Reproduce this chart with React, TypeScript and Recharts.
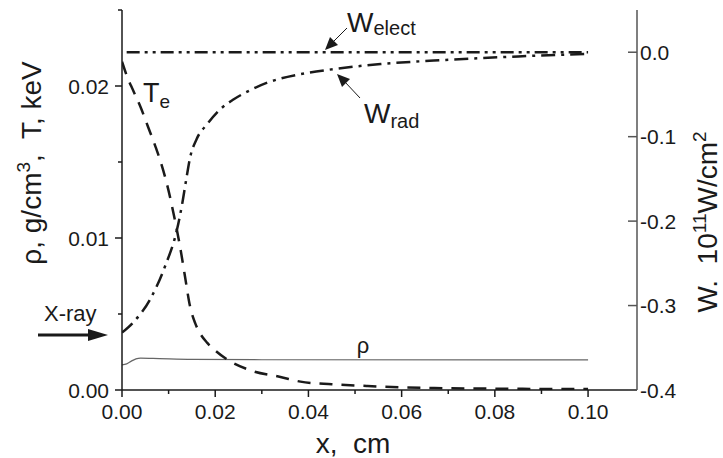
import React from 'react';
import { ComposedChart, Line, XAxis, YAxis } from 'recharts';

// Te (left axis, keV) sampled along x (cm)
const teX = [0, 0.001, 0.0024, 0.004, 0.0056, 0.0072, 0.0088, 0.01, 0.011, 0.0118, 0.0127, 0.0135, 0.0146, 0.0157, 0.0168, 0.0183, 0.02, 0.0226, 0.0275, 0.034, 0.0383, 0.045, 0.0527, 0.06, 0.067, 0.08, 0.09, 0.1];
const teVal = [0.0216, 0.0207, 0.0197, 0.0186, 0.0173, 0.016, 0.0145, 0.0131, 0.0117, 0.0105, 0.009, 0.0075, 0.0055, 0.0044, 0.0037, 0.0031, 0.0026, 0.002, 0.0013, 0.00086, 0.00055, 0.00038, 0.00026, 0.00018, 0.00013, 0.00009, 0.00007, 0.00006];

// density rho (left axis, g/cm3)
const rhoX = [0, 0.001, 0.002, 0.003, 0.004, 0.008, 0.015, 0.03, 0.1];
const rhoVal = [0.00165, 0.00172, 0.0019, 0.00205, 0.0021, 0.00207, 0.00202, 0.00199, 0.00198];

// W_rad (right axis, 1e11 W/cm2)
const wRadX = [0, 0.0024, 0.006, 0.0092, 0.0118, 0.0129, 0.0138, 0.0146, 0.016, 0.0183, 0.021, 0.0239, 0.0275, 0.0312, 0.0383, 0.0454, 0.0555, 0.07, 0.085, 0.1];
const wRadVal = [-0.332, -0.32, -0.293, -0.254, -0.21, -0.18, -0.15, -0.125, -0.103, -0.085, -0.068, -0.056, -0.045, -0.036, -0.026, -0.02, -0.014, -0.009, -0.005, -0.002];

// W_elect (right axis)
const wElX = [0.001, 0.02, 0.04, 0.06, 0.08, 0.1];
const wElVal = [0, 0, 0, 0, 0, 0];

const xTicks = [0, 0.01, 0.02, 0.03, 0.04, 0.05, 0.06, 0.07, 0.08, 0.09, 0.1];
const xMajor = [0, 0.02, 0.04, 0.06, 0.08, 0.1];
const leftTicks = [0, 0.005, 0.01, 0.015, 0.02, 0.025];
const leftMajor = [0, 0.01, 0.02];
const rightTicks = [-0.4, -0.3, -0.2, -0.1, 0];

const toPts = (xs: number[], vs: number[]) => xs.map((x, i) => ({ x, v: vs[i] }));

const FONT = 'Liberation Sans, Arial, sans-serif';
const INK = '#1a1a1a';

const XTick = (props: any) => {
  const { x, y, payload } = props;
  const major = xMajor.some((m) => Math.abs(m - payload.value) < 1e-9);
  return (
    <g>
      <line x1={x} x2={x} y1={y} y2={y + (major ? 7 : 4)} stroke={INK} strokeWidth={1.5} />
      {major && (
        <text x={x} y={y + 29} textAnchor="middle" fontSize={21} fontFamily={FONT} fill={INK}>
          {payload.value.toFixed(2)}
        </text>
      )}
    </g>
  );
};

const LeftTick = (props: any) => {
  const { x, y, payload } = props;
  const major = leftMajor.some((m) => Math.abs(m - payload.value) < 1e-9);
  return (
    <g>
      <line x1={x - (major ? 7 : 4)} x2={x} y1={y} y2={y} stroke={INK} strokeWidth={1.5} />
      {major && (
        <text x={x - 13} y={y + 7.5} textAnchor="end" fontSize={21} fontFamily={FONT} fill={INK}>
          {payload.value.toFixed(2)}
        </text>
      )}
    </g>
  );
};

const RightTick = (props: any) => {
  const { x, y, payload } = props;
  return (
    <g>
      <line x1={x - 9} x2={x} y1={y} y2={y} stroke="#555" strokeWidth={1.5} />
      <text x={x + 3} y={y + 7.5} textAnchor="start" fontSize={21} fontFamily={FONT} fill={INK}>
        {payload.value.toFixed(1)}
      </text>
    </g>
  );
};

export default function App() {
  return (
    <div style={{ position: 'absolute', left: 0, top: 0, width: 723, height: 458, background: '#fff' }}>
      <ComposedChart width={723} height={458} margin={{ top: 10, right: 26, bottom: 28, left: 62 }}>
        <XAxis
          dataKey="x"
          type="number"
          domain={[0, 0.1105]}
          ticks={xTicks}
          interval={0}
          tickSize={0}
          tickMargin={0}
          height={40}
          tick={<XTick />}
          tickLine={false}
          axisLine={{ stroke: INK, strokeWidth: 1.5 }}
          allowDataOverflow
        />
        <YAxis
          yAxisId="left"
          type="number"
          domain={[0, 0.025]}
          ticks={leftTicks}
          interval={0}
          tickSize={0}
          tickMargin={0}
          width={60}
          tick={<LeftTick />}
          tickLine={false}
          axisLine={{ stroke: INK, strokeWidth: 1.5 }}
          allowDataOverflow
        />
        <YAxis
          yAxisId="right"
          orientation="right"
          type="number"
          domain={[-0.4, 0.05]}
          ticks={rightTicks}
          interval={0}
          tickSize={0}
          tickMargin={0}
          width={60}
          tick={<RightTick />}
          tickLine={false}
          axisLine={{ stroke: '#555', strokeWidth: 1.5 }}
          allowDataOverflow
        />
        <Line
          yAxisId="left"
          data={toPts(rhoX, rhoVal)}
          dataKey="v"
          type="monotone"
          stroke="#666"
          strokeWidth={1.2}
          dot={false}
          isAnimationActive={false}
        />
        <Line
          yAxisId="left"
          data={toPts(teX, teVal)}
          dataKey="v"
          type="monotone"
          stroke={INK}
          strokeWidth={2.5}
          strokeDasharray="13 9"
          dot={false}
          isAnimationActive={false}
        />
        <Line
          yAxisId="right"
          data={toPts(wRadX, wRadVal)}
          dataKey="v"
          type="monotone"
          stroke={INK}
          strokeWidth={2.5}
          strokeDasharray="14 6 3 6"
          dot={false}
          isAnimationActive={false}
        />
        <Line
          yAxisId="right"
          data={toPts(wElX, wElVal)}
          dataKey="v"
          type="linear"
          stroke={INK}
          strokeWidth={2.5}
          strokeDasharray="13 5 3 5 3 5"
          dot={false}
          isAnimationActive={false}
        />
      </ComposedChart>

      {/* annotations, axis titles, X-ray arrow */}
      <svg
        width={723}
        height={458}
        style={{ position: 'absolute', left: 0, top: 0, pointerEvents: 'none' }}
        fontFamily={FONT}
        fill={INK}
      >
        <text x={143} y={102} fontSize={27}>
          T<tspan fontSize={19} dy={6}>e</tspan>
        </text>

        <text x={347} y={32} fontSize={28}>
          W<tspan fontSize={20} dy={3}>elect</tspan>
        </text>
        <line x1={347} y1={28} x2={333} y2={42} stroke={INK} strokeWidth={1} />
        <polygon points="325,50 330,37 338,45" fill={INK} />

        <text x={364} y={123} fontSize={28}>
          W<tspan fontSize={20} dy={5}>rad</tspan>
        </text>
        <line x1={360} y1={98} x2={345} y2={82} stroke={INK} strokeWidth={1} />
        <polygon points="337,74 350,79 342,87" fill={INK} />

        <text x={363} y={353} fontSize={22} textAnchor="middle">ρ</text>

        <text x={44} y={321} fontSize={22}>X-ray</text>
        <line x1={38} y1={335} x2={92} y2={335} stroke={INK} strokeWidth={3} />
        <polygon points="108,335 88,329 88,341" fill={INK} />

        <text x={353} y={453} fontSize={28} textAnchor="middle" style={{ whiteSpace: 'pre' }}>
          x,  cm
        </text>

        <text
          transform="translate(41,163) rotate(-90)"
          fontSize={28}
          textAnchor="middle"
          style={{ whiteSpace: 'pre' }}
        >
          ρ, g/cm<tspan fontSize={19} dy={-11}>3</tspan>
          <tspan dy={11}>,  T, keV</tspan>
        </text>

        <text
          transform="translate(717,222) rotate(-90)"
          fontSize={28}
          textAnchor="middle"
          style={{ whiteSpace: 'pre' }}
        >
          W.  10<tspan fontSize={19} dy={-11}>11</tspan>
          <tspan dy={11}>W/cm</tspan>
          <tspan fontSize={19} dy={-11}>2</tspan>
        </text>
      </svg>
    </div>
  );
}
